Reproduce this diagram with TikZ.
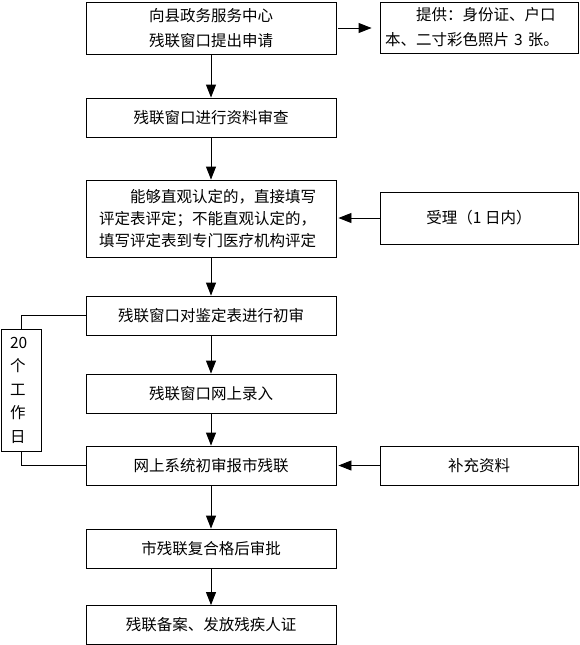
\documentclass[tikz,border=0pt]{standalone}
\usepackage{fontspec}
\setmainfont{Noto Sans CJK SC}
\usetikzlibrary{arrows.meta}
\begin{document}
\begin{tikzpicture}[x=1pt,y=-1pt,
  every node/.style={font=\fontsize{15.5}{22}\selectfont},
  box/.style={draw,line width=0.9pt,minimum width=250pt,minimum height=39pt,inner sep=3pt},
  rbox/.style={draw,line width=0.9pt,minimum width=198pt,minimum height=39pt,inner sep=3pt},
  conn/.style={line width=0.9pt},
  arr/.style={line width=0.9pt,-{Triangle[length=13pt,width=10pt]}}]
\useasboundingbox (0,0) rectangle (579,645);
% main column
\node[box,minimum height=52pt,align=center,font=\fontsize{15.5}{25}\selectfont] (b1) at (211,28) {向县政务服务中心\\残联窗口提出申请};
\node[box] (b2) at (211,117.5) {残联窗口进行资料审查};
\node[box,minimum height=77pt,text width=224pt,align=left] (b3) at (211,218.5) {\hspace*{2em}能够直观认定的，直接填写\\评定表评定；不能直观认定的，\\填写评定表到专门医疗机构评定};
\node[box] (b4) at (211,315.5) {残联窗口对鉴定表进行初审};
\node[box] (b5) at (211,393.5) {残联窗口网上录入};
\node[box] (b6) at (211,465.5) {网上系统初审报市残联};
\node[box] (b7) at (211,548.5) {市残联复合格后审批};
\node[box] (b8) at (211,625) {残联备案、发放残疾人证};
% right column
\node[rbox,minimum height=51pt,text width=188pt,align=left,font=\fontsize{15.5}{25}\selectfont] (r1) at (479,27.5) {\hspace*{2em}提供：身份证、户口\\本、二寸彩色照片 3 张。};
\node[rbox,minimum height=52pt] (r2) at (479,218) {受理（1 日内）};
\node[rbox] (r3) at (479,465.5) {补充资料};
% left box
\node[draw,line width=0.9pt,minimum height=122pt,text width=22pt,inner xsep=9pt,align=left,font=\fontsize{15.5}{23.5}\selectfont] (l) at (21,390) {20\\个\\工\\作\\日};
% connectors
\draw[arr] (b1.south) -- (b2.north);
\draw[arr] (b2.south) -- (b3.north);
\draw[arr] (b3.south) -- (b4.north);
\draw[arr] (b4.south) -- (b5.north);
\draw[arr] (b5.south) -- (b6.north);
\draw[arr] (b6.south) -- (b7.north);
\draw[arr] (b7.south) -- (b8.north);
\draw[arr,shorten <=2pt,shorten >=8pt] (b1.east) -- (b1.east -| r1.west);
\draw[arr,shorten >=2pt] (r2.west) -- (r2.west -| b3.east);
\draw[arr,shorten >=2pt] (r3.west) -- (r3.west -| b6.east);
\draw[conn] (b4.west) -| (l.north);
\draw[conn] (b6.west) -| (l.south);
\end{tikzpicture}
\end{document}
